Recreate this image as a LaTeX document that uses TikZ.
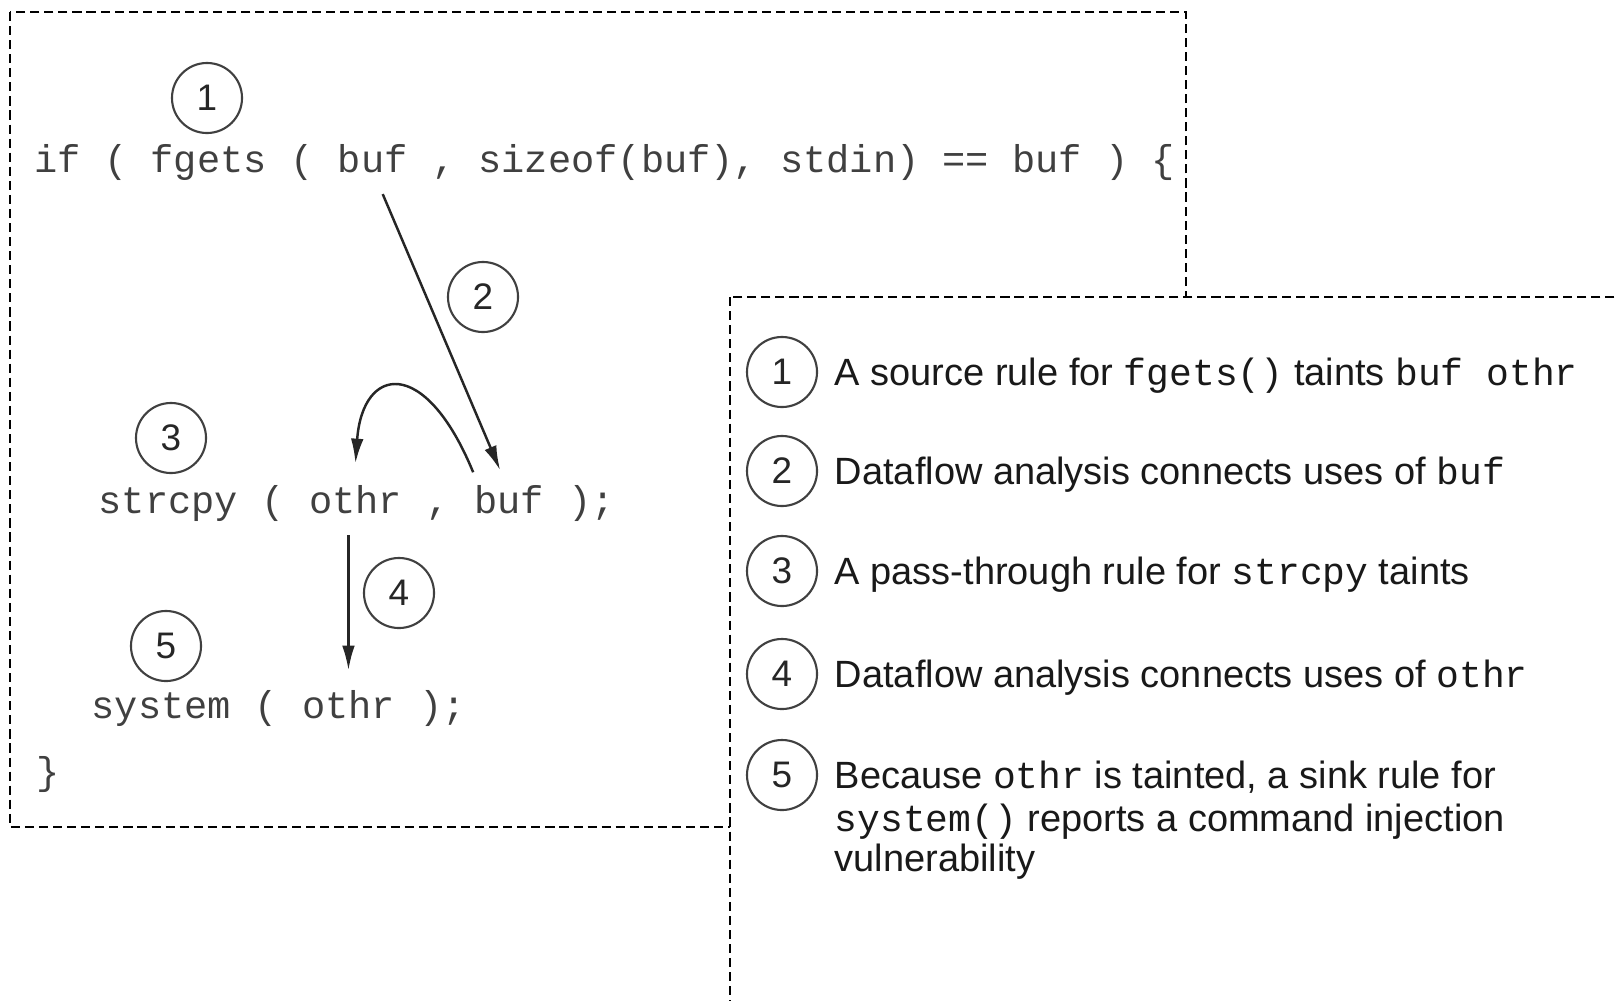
\documentclass[tikz,border=0pt]{standalone}
\usepackage{fontspec}
\setmainfont{Liberation Sans}
\setmonofont{Liberation Mono}
\usetikzlibrary{positioning,calc,arrows.meta}
\newcommand{\cw}{0.232cm}
\newcommand{\tok}[1]{{\fontsize{10.8pt}{13pt}\selectfont\ttfamily #1}}

\begin{document}
\begin{tikzpicture}[x=0.01cm,y=-0.01cm,
  every node/.style={inner sep=0pt},
  code/.style={font=\fontsize{11pt}{13pt}\selectfont\ttfamily,text=black!75},
  num/.style={circle,draw=black!75,line width=0.6pt,minimum size=0.7cm,
    font=\fontsize{10.5pt}{12pt}\selectfont,text=black!85},
  txt/.style={font=\fontsize{10.8pt}{13pt}\selectfont,text=black!90,
    text height=0.27cm,text depth=0.08cm,yshift=-1.1pt},
  flow/.style={draw=black!85,line width=0.7pt,-{Latex[length=7pt,width=3.6pt]}},
  frame/.style={draw=black,line width=0.45pt,dash pattern=on 2.6pt off 1.4pt}]
\useasboundingbox (0,0) rectangle (1619,1000);
\clip (0,0) rectangle (1619,1000);
% boxes
\draw[frame] (10,12) rectangle (1186,827);
\draw[frame,fill=white] (730,297) rectangle (1660,1040);

% code
\node[code,anchor=base west] (src) at (34,172) {if ( fgets (};
\node[code,base right=\cw of src] (buf1) {buf};
\node[code,base right=\cw of buf1] (tail1) {, sizeof(buf), stdin) == buf ) \{};
\node[code,anchor=base west] (cpy) at (98,513) {strcpy (};
\node[code,base right=\cw of cpy] (othr2) {othr};
\node[code,base right=\cw of othr2] (comma2) {,};
\node[code,base right=\cw of comma2] (buf2) {buf};
\node[code,base right=\cw of buf2] (semi2) {);};
\node[code,anchor=base west] (sys) at (91,718) {system (};
\node[code,base right=\cw of sys] (othr3) {othr};
\node[code,base right=\cw of othr3] (semi3) {);};
\node[code,anchor=base west] (brace) at (36,784) {\}};

% steps on the code
\node[num] (c1) at (207,98) {1};
\node[num] (c2) at (483,297) {2};
\node[num] (c3) at (171,438) {3};
\node[num] (c4) at (399,593) {4};
\node[num] (c5) at (166,646) {5};

\draw[flow] ($(buf1.south)+(10,21)$) -- ($(buf2.north)+(-9,-14)$);
\draw[flow] ($(buf2.north)+(-36,-12)$) .. controls ($(buf2.north)+(-84,-129)$)
  and ($(othr2.north)+(7,-119)$) .. ($(othr2.north)+(0,-21)$);
\draw[flow] ($(othr2.south)+(-7,21)$) -- ($(othr3.north)+(0,-19)$);

% legend
\node[num] (n1) at (782,372) {1};
\node[num] (n2) at (782,471) {2};
\node[num] (n3) at (782,571) {3};
\node[num] (n4) at (782,674) {4};
\node[num] (n5) at (782,775) {5};
\node[txt,right=0.16cm of n1] (t1) {A source rule for \tok{fgets()} taints \tok{buf othr}};
\node[txt,right=0.16cm of n2] (t2) {Dataflow analysis connects uses of \tok{buf}};
\node[txt,right=0.16cm of n3] (t3) {A pass-through rule for \tok{strcpy} taints};
\node[txt,right=0.16cm of n4] (t4) {Dataflow analysis connects uses of \tok{othr}};
\node[txt,right=0.16cm of n5] (t5) {Because \tok{othr} is tainted, a sink rule for};
\node[txt,below=0.03cm of t5.south west,anchor=north west] (t5b) {\tok{system()} reports a command injection};
\node[txt,below=0cm of t5b.south west,anchor=north west] (t5c) {vulnerability};
\end{tikzpicture}
\end{document}
